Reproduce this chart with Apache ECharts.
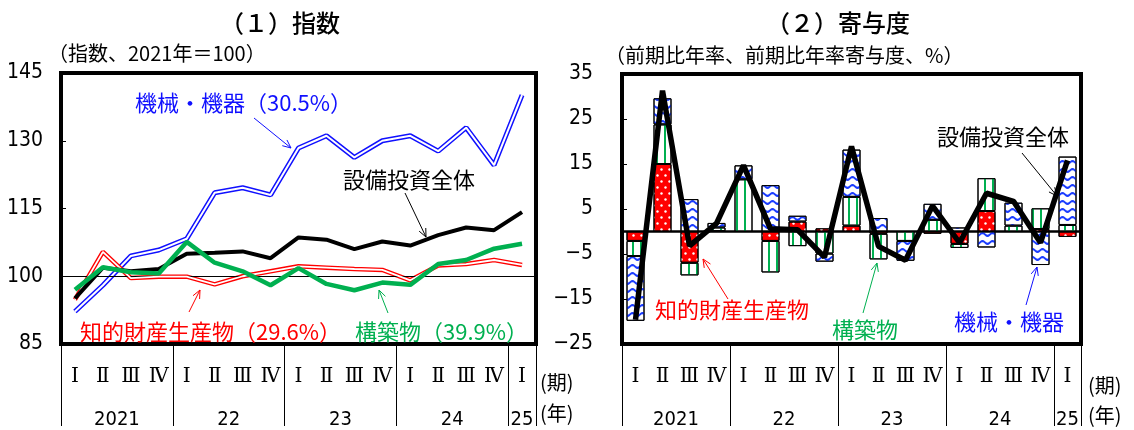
<!DOCTYPE html>
<html><head><meta charset="utf-8">
<script src="https://cdn.jsdelivr.net/npm/echarts@6/dist/echarts.min.js"></script>
<style>html,body{margin:0;padding:0;background:#fff}#c{width:1134px;height:430px}</style>
</head><body><div id="c"></div>
<script>
// ---- data ----
const quarters = ['Ⅰ','Ⅱ','Ⅲ','Ⅳ','Ⅰ','Ⅱ','Ⅲ','Ⅳ','Ⅰ','Ⅱ','Ⅲ','Ⅳ','Ⅰ','Ⅱ','Ⅲ','Ⅳ','Ⅰ'];
const yearLabels = ['2021','22','23','24','25'];
const quartersPerYear = [4,4,4,4,1];
const indexTicks = [85,100,115,130,145];
const contribTicks = [-25,-15,-5,5,15,25,35];

// (1) index, 2021 = 100
const idxMachinery = [92.2, 98.0, 104.5, 105.8, 108.3, 118.5, 119.6, 118.0, 128.4, 131.1, 126.3, 130.0, 131.1, 127.7, 132.9, 124.6, 140.1];
const idxTotal     = [95.1, 101.9, 101.1, 101.6, 105.0, 105.2, 105.5, 104.0, 108.6, 108.1, 106.0, 107.7, 106.8, 109.1, 110.8, 110.2, 114.2];
const idxStructures= [97.0, 102.0, 100.9, 100.6, 107.6, 103.0, 101.1, 98.0, 101.8, 98.3, 96.9, 98.6, 98.1, 102.7, 103.6, 106.1, 107.2];
const idxIP        = [94.8, 105.4, 99.6, 99.9, 99.9, 98.2, 100.0, 101.1, 102.2, 101.9, 101.6, 101.4, 99.1, 102.4, 102.7, 103.6, 102.5];

// (2) contributions, annualized q/q %
const ctbIP     = [-2.1, 15.0, -6.95, 0.1, 0, -2.1, 2.2, 0.7, 1.3, -0.5, 0, -0.5, -2.75, 4.55, 0, 0.55, -1.2];
const ctbStruct = [-3.35, 8.8, -2.8, 0.8, 11.6, -7.0, -3.25, -4.9, 6.4, -5.7, -2.1, 2.6, -0.9, 7.3, 1.3, 4.6, 1.45];
const ctbMach   = [-14.4, 5.8, 7.2, 1.0, 3.1, 10.3, 1.3, -1.8, 10.5, 3.0, -4.4, 3.55, 0.9, -3.55, 5.1, -7.45, 15.2];
const growthTotal = [-19.6, 31.3, -3.2, 1.8, 14.7, 0.6, 0.4, -5.7, 18.9, -3.3, -6.4, 5.7, -2.5, 8.5, 6.7, -2.5, 15.8];

// ---- styling ----
const JP = '"Noto Sans CJK JP", sans-serif';
const NUM = '"Liberation Sans Narrow", "DejaVu Sans Condensed", "Noto Sans CJK JP", sans-serif';
const ROMAN = '"DejaVu Serif", "Noto Sans CJK JP", serif';
const BLUE = '#1010ff', RED = '#ff0000', GREEN = '#00b050';

// year label centers from quarter counts
const yearCenters = {};
let acc = 0;
quartersPerYear.forEach((n, i) => { yearCenters[(acc + n / 2).toFixed(1)] = yearLabels[i]; acc += n; });

const grids = [
  {left: 61, top: 73, width: 475, height: 275},
  {left: 622, top: 74, width: 459, height: 274}
];

function xAxesFor(g) {
  return [
    {type: 'category', gridIndex: g, data: quarters, boundaryGap: true,
     axisLine: {show: false, onZero: false},
     axisTick: {show: true, length: 82, interval: (i) => { let s = 0; for (const n of quartersPerYear) { if (i === s) return true; s += n; } return false; },
                lineStyle: {color: '#000', width: 1}},
     axisLabel: {interval: 0, margin: 23, fontSize: 20, fontFamily: ROMAN, color: '#000'},
     splitLine: {show: false}},
    {type: 'value', gridIndex: g, position: 'bottom', min: 0, max: quarters.length, interval: 0.5,
     axisLine: {show: false, onZero: false}, axisTick: {show: false}, splitLine: {show: false},
     axisLabel: {margin: 66, fontSize: 20, fontFamily: NUM, color: '#000', showMinLabel: false, showMaxLabel: false,
                 formatter: (v) => yearCenters[v.toFixed(1)] || ''}}
  ];
}

const decalDots = {symbol: 'circle', symbolSize: 0.8, color: '#ffffff',
  dashArrayX: [[3, 5], [0, 4, 3, 1]], dashArrayY: [3, 3]};
const decalStripes = {symbol: 'rect', symbolSize: 1, color: GREEN,
  dashArrayX: [2, 6], dashArrayY: [10, 0]};
const decalWaves = {symbol: 'path://M0,3 Q3,0 6,3 Q9,6 12,3 L12,5.5 Q9,8.5 6,5.5 Q3,2.5 0,5.5 Z', symbolSize: 1,
  symbolKeepAspect: false, color: '#1a3cff', dashArrayX: [10, 0], dashArrayY: [5, 3]};

function arrow(x1, y1, x2, y2, color) {
  const a = Math.atan2(y2 - y1, x2 - x1), L = 9, s = 0.42;
  return [
    {type: 'line', silent: true, shape: {x1, y1, x2, y2}, style: {stroke: color, lineWidth: 1}},
    {type: 'polyline', silent: true, shape: {points: [[x2 - L * Math.cos(a - s), y2 - L * Math.sin(a - s)], [x2, y2], [x2 - L * Math.cos(a + s), y2 - L * Math.sin(a + s)]]},
     style: {stroke: color, fill: null, lineWidth: 1}}
  ];
}
function txt(x, y, text, color, size, align, weight) {
  return {type: 'text', silent: true, x, y, style: {text, fill: color, font: (weight || 'normal') + ' ' + size + 'px ' + JP, align: align || 'left', verticalAlign: 'middle'}};
}

const graphics = [
  txt(280, 23, '（１）指数', '#000', 24, 'center', '500'),
  txt(838, 23, '（２）寄与度', '#000', 24, 'center', '500'),
  txt(48, 53, '（指数、2021年＝100）', '#000', 20),
  txt(605, 55, '（前期比年率、前期比年率寄与度、%）', '#000', 20),
  txt(540, 382, '(期)', '#000', 20), txt(540, 413, '(年)', '#000', 20),
  txt(1088, 385, '(期)', '#000', 20), txt(1088, 415, '(年)', '#000', 20),
  txt(135, 103, '機械・機器（30.5%）', BLUE, 22),
  txt(343, 180, '設備投資全体', '#000', 22),
  txt(80, 332, '知的財産生産物（29.6%）', RED, 22),
  txt(355, 332, '構築物（39.9%）', GREEN, 22),
  txt(937, 137, '設備投資全体', '#000', 22),
  txt(655, 310, '知的財産生産物', RED, 22),
  txt(832, 330, '構築物', GREEN, 22),
  txt(954, 322, '機械・機器', BLUE, 22),
  ...arrow(254, 118, 291, 148, BLUE),
  ...arrow(405, 193, 426, 237, '#000'),
  ...arrow(189, 312, 200, 290, RED),
  ...arrow(388, 313, 379, 290, GREEN),
  ...arrow(1022, 153, 1057, 196, '#000'),
  ...arrow(728, 299, 703, 259, RED),
  ...arrow(863, 313, 877, 263, GREEN),
  ...arrow(1026, 305, 1037, 267, BLUE)
];

const option = {
  animation: false,
  backgroundColor: '#fff',
  grid: grids.map(g => Object.assign({show: true, borderColor: '#000', borderWidth: 4, backgroundColor: 'transparent', containLabel: false}, g)),
  xAxis: [...xAxesFor(0), ...xAxesFor(1)],
  yAxis: [
    {type: 'value', gridIndex: 0, min: indexTicks[0], max: indexTicks[indexTicks.length - 1], interval: indexTicks[1] - indexTicks[0],
     axisLine: {show: false}, axisTick: {show: true, inside: true, length: 5, lineStyle: {color: '#000'}},
     splitLine: {show: false},
     axisLabel: {margin: 18, fontSize: 21, fontFamily: NUM, color: '#000'}},
    {type: 'value', gridIndex: 1, min: contribTicks[0], max: contribTicks[contribTicks.length - 1], interval: contribTicks[1] - contribTicks[0],
     axisLine: {show: false}, axisTick: {show: true, inside: true, length: 5, lineStyle: {color: '#000'}},
     splitLine: {show: false},
     axisLabel: {margin: 29, fontSize: 21, fontFamily: NUM, color: '#000', formatter: v => v < 0 ? '−' + (-v) : String(v)}}
  ],
  series: [
    {type: 'line', xAxisIndex: 0, yAxisIndex: 0, data: idxMachinery, symbol: 'none', z: 2,
     lineStyle: {color: BLUE, width: 5},
     markLine: {silent: true, symbol: 'none', label: {show: false}, lineStyle: {color: '#000', width: 1, type: 'solid'}, data: [{yAxis: 100}]}},
    {type: 'line', xAxisIndex: 0, yAxisIndex: 0, data: idxMachinery, symbol: 'none', z: 3,
     lineStyle: {color: '#fff', width: 2}},
    {type: 'line', xAxisIndex: 0, yAxisIndex: 0, data: idxIP, symbol: 'none', z: 4,
     lineStyle: {color: RED, width: 4.5}},
    {type: 'line', xAxisIndex: 0, yAxisIndex: 0, data: idxIP, symbol: 'none', z: 5,
     lineStyle: {color: '#fff', width: 1.8}},
    {type: 'line', xAxisIndex: 0, yAxisIndex: 0, data: idxTotal, symbol: 'none', z: 6,
     lineStyle: {color: '#000', width: 4}},
    {type: 'line', xAxisIndex: 0, yAxisIndex: 0, data: idxStructures, symbol: 'none', z: 7,
     lineStyle: {color: GREEN, width: 4.5}},

    {type: 'bar', xAxisIndex: 2, yAxisIndex: 1, stack: 'c', data: ctbIP, barWidth: 18,
     itemStyle: {color: RED, borderColor: '#000', borderWidth: 1, decal: decalDots}},
    {type: 'bar', xAxisIndex: 2, yAxisIndex: 1, stack: 'c', data: ctbStruct, barWidth: 18,
     itemStyle: {color: '#fff', borderColor: '#000', borderWidth: 1, decal: decalStripes}},
    {type: 'bar', xAxisIndex: 2, yAxisIndex: 1, stack: 'c', data: ctbMach, barWidth: 18,
     itemStyle: {color: '#fff', borderColor: '#000', borderWidth: 1, decal: decalWaves}},
    {type: 'line', xAxisIndex: 2, yAxisIndex: 1, data: growthTotal, symbol: 'none', z: 10,
     lineStyle: {color: '#000', width: 5.5},
     markLine: {silent: true, symbol: 'none', label: {show: false}, lineStyle: {color: '#000', width: 2.5, type: 'solid'}, data: [{yAxis: 0}], z: 1}}
  ],
  graphic: graphics
};

const chart = echarts.init(document.getElementById('c'), null, {renderer: 'canvas'});
chart.setOption(option);
</script>
</body></html>
